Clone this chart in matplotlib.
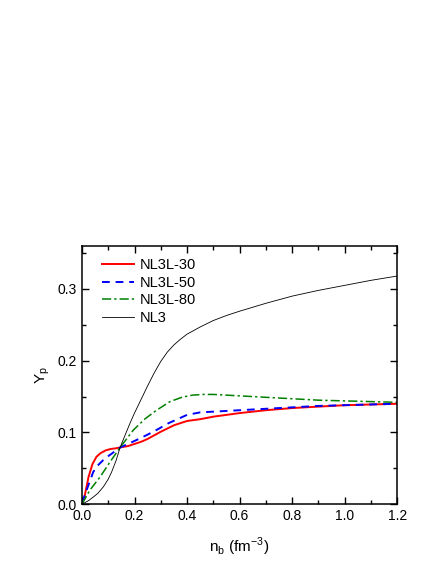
import matplotlib
matplotlib.use("Agg")
import matplotlib.pyplot as plt
from matplotlib.ticker import MultipleLocator, FormatStrFormatter

plt.rcParams['font.family'] = ['Liberation Sans', 'DejaVu Sans']

# NL3L-30
nb_30 = [0.0, 0.01, 0.025, 0.04, 0.055, 0.07, 0.09, 0.11, 0.13, 0.15, 0.175, 0.2, 0.225,
         0.25, 0.275, 0.3, 0.35, 0.4, 0.45, 0.5, 0.6, 0.7, 0.8, 0.9, 1.0, 1.1, 1.2]
yp_30 = [0.0, 0.011, 0.038, 0.056, 0.066, 0.071, 0.075, 0.077, 0.078, 0.0795, 0.081, 0.084, 0.087,
         0.091, 0.096, 0.101, 0.110, 0.116, 0.1185, 0.122, 0.127, 0.131, 0.134, 0.136, 0.138, 0.139, 0.140]

# NL3L-50
nb_50 = [0.0, 0.018, 0.043, 0.06, 0.081, 0.1, 0.119, 0.145, 0.175, 0.208, 0.25, 0.284, 0.33,
         0.4, 0.45, 0.5, 0.6, 0.7, 0.8, 0.9, 1.0, 1.1, 1.2]
yp_50 = [0.002, 0.020, 0.045, 0.054, 0.0615, 0.067, 0.072, 0.079, 0.084, 0.0895, 0.097, 0.1035, 0.113,
         0.1245, 0.128, 0.129, 0.131, 0.133, 0.135, 0.137, 0.138, 0.139, 0.140]

# NL3L-80
nb_80 = [0.0, 0.03, 0.069, 0.107, 0.145, 0.196, 0.24, 0.284, 0.335, 0.38, 0.42, 0.46, 0.5,
         0.6, 0.7, 0.8, 0.9, 1.0, 1.1, 1.2]
yp_80 = [0.0, 0.0196, 0.038, 0.059, 0.079, 0.1035, 0.119, 0.131, 0.143, 0.149, 0.152, 0.153, 0.153,
         0.151, 0.149, 0.147, 0.145, 0.144, 0.143, 0.142]

# NL3
nb_nl3 = [0.0, 0.025, 0.043, 0.06, 0.081, 0.1, 0.113, 0.13, 0.145, 0.165, 0.183, 0.2, 0.221,
          0.25, 0.275, 0.3, 0.325, 0.35, 0.375, 0.4, 0.45, 0.5, 0.55, 0.6, 0.7, 0.8, 0.9,
          1.0, 1.1, 1.2]
yp_nl3 = [0.0, 0.005, 0.010, 0.015, 0.024, 0.035, 0.045, 0.061, 0.079, 0.097, 0.113, 0.127, 0.143,
          0.165, 0.183, 0.199, 0.212, 0.222, 0.230, 0.237, 0.247, 0.256, 0.263, 0.269, 0.280, 0.290, 0.298,
          0.305, 0.312, 0.318]

fig = plt.figure(figsize=(4.36, 5.64), dpi=100)
ax = fig.add_axes([0.188, 0.106, 0.723, 0.458])

ax.plot(nb_30, yp_30, color='red', lw=1.4, label='NL3L-30')
ax.plot(nb_50, yp_50, color='blue', lw=1.4, ls=(0, (4, 3)), label='NL3L-50')
ax.plot(nb_80, yp_80, color='green', lw=1.1, ls=(0, (6, 2, 1.5, 2)), label='NL3L-80')
ax.plot(nb_nl3, yp_nl3, color='black', lw=0.6, label='NL3')

ax.set_xlim(0, 1.2)
ax.set_ylim(0, 0.36)
ax.xaxis.set_major_locator(MultipleLocator(0.2))
ax.xaxis.set_minor_locator(MultipleLocator(0.1))
ax.yaxis.set_major_locator(MultipleLocator(0.1))
ax.yaxis.set_minor_locator(MultipleLocator(0.05))
ax.xaxis.set_major_formatter(FormatStrFormatter('%.1f'))
ax.yaxis.set_major_formatter(FormatStrFormatter('%.1f'))
ax.tick_params(which='both', direction='in', top=True, right=True, labelsize=10)
ax.tick_params(which='major', length=5, width=1)
ax.tick_params(which='minor', length=3, width=1)
for s in ax.spines.values():
    s.set_linewidth(1.1)

ax.set_xlabel(r'n$_\mathregular{b}$ (fm$^\mathregular{-3}$)', fontsize=11, labelpad=9)
ax.set_ylabel(r'Y$_\mathregular{p}$', fontsize=11)

ax.legend(loc='upper left', bbox_to_anchor=(0.045, 0.975), borderaxespad=0,
          frameon=False, fontsize=10.5, handlelength=2.2,
          labelspacing=0.25, handletextpad=0.4)

fig.savefig('out.png', dpi=100)
